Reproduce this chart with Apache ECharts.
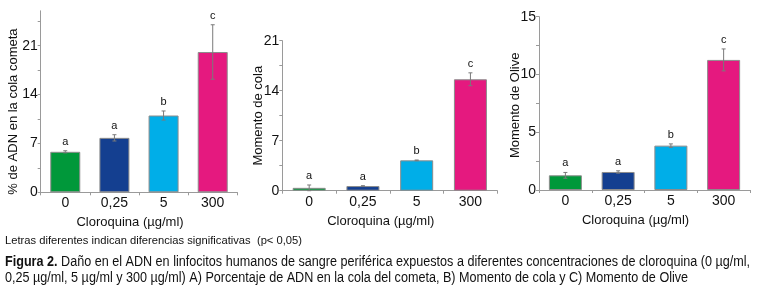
<!DOCTYPE html>
<html>
<head>
<meta charset="utf-8">
<script src="https://cdn.jsdelivr.net/npm/echarts@6/dist/echarts.min.js"></script>
<style>
  html, body { margin: 0; padding: 0; background: #fff; }
  #chart { width: 761px; height: 292px; }
</style>
</head>
<body>
<div id="chart"></div>
<script>
// categorias (concentracion de cloroquina)
const categories = ["0", "0,25", "5", "300"];
const barColors = ["#00983a", "#143f90", "#00aee8", "#e5197f"];
const letters = ["a", "a", "b", "c"];

// A) % de ADN en la cola cometa
const cometaMeans = [5.8, 7.8, 11.0, 20.1];
const cometaErr = [0.15, 0.45, 0.65, 3.9];
const cometaLabels = [0, 7, 14, 21];
const cometaTicks = [0, 3.5, 7, 10.5, 14, 17.5, 21, 24.5];

// B) Momento de cola
const colaMeans = [0.4, 0.65, 4.25, 15.6];
const colaErr = [0.4, 0.05, 0.05, 0.9];
const colaLabels = [0, 7, 14, 21];
const colaTicks = [0, 3.5, 7, 10.5, 14, 17.5, 21];

// C) Momento de Olive
const oliveMeans = [1.27, 1.56, 3.84, 11.26];
const oliveErr = [0.25, 0.1, 0.15, 0.95];
const oliveLabels = [0, 5, 10, 15];
const oliveTicks = [0, 2.5, 5, 7.5, 10, 12.5, 15];

const xName = "Cloroquina (µg/ml)";
const footnote = "Letras diferentes indican diferencias significativas  (p< 0,05)";
const captionBold = "Figura 2.";
const captionLine1 = " Daño en el ADN en linfocitos humanos de sangre periférica expuestos a diferentes concentraciones de cloroquina (0 µg/ml,";
const captionLine2 = "0,25 µg/ml, 5 µg/ml y 300 µg/ml) A) Porcentaje de ADN en la cola del cometa, B) Momento de cola y C) Momento de Olive";

const font = "Liberation Sans, Arial, sans-serif";
const axisGray = "#9a9a9a";

// no hay Arial Narrow: se comprime el texto horizontalmente
const ctx = document.createElement("canvas").getContext("2d");
function textWidth(str, css) { ctx.font = css; return ctx.measureText(str).width; }
const capFont = "14px " + font;
const capBoldFont = "bold 14px " + font;
const capScale = 745 / (textWidth(captionBold, capBoldFont) + textWidth(captionLine1, capFont));
const noteFont = "11.5px " + font;
const noteScale = 297 / textWidth(footnote, noteFont);

const panels = [
  { means: cometaMeans, err: cometaErr, labels: cometaLabels, ticks: cometaTicks, max: 26, yName: "% de ADN en la cola cometa",
    grid: { left: 40.7, top: 10.8, width: 196.6, height: 181.5 }, barWidth: 30, nameGap: 21, namePad: [0, 20, 0, 0] },
  { means: colaMeans, err: colaErr, labels: colaLabels, ticks: colaTicks, max: 21, yName: "Momento de cola",
    grid: { left: 282.3, top: 40.7, width: 215, height: 150 }, barWidth: 33, nameGap: 17, namePad: 0 },
  { means: oliveMeans, err: oliveErr, labels: oliveLabels, ticks: oliveTicks, max: 15, yName: "Momento de Olive",
    grid: { left: 539, top: 16.7, width: 211, height: 173.3 }, barWidth: 33, nameGap: 17, namePad: [0, 4, 0, 0] }
];

const grid = [], xAxis = [], yAxis = [], series = [];

panels.forEach((p, k) => {
  grid.push(p.grid);
  xAxis.push({
    type: "category",
    gridIndex: k,
    data: categories,
    name: xName,
    nameLocation: "middle",
    nameGap: 24,
    nameMoveOverlap: false,
    nameTextStyle: { fontFamily: font, fontSize: 13, color: "#111", padding: [0, 18, 0, 0] },
    axisLine: { lineStyle: { color: axisGray, width: 1 } },
    axisTick: { show: true, length: 3, lineStyle: { color: axisGray } },
    axisLabel: { fontFamily: font, fontSize: 14, color: "#111", margin: 4 }
  });
  yAxis.push({
    type: "value",
    gridIndex: k,
    min: 0,
    max: p.max,
    name: p.yName,
    nameLocation: "middle",
    nameGap: p.nameGap,
    nameMoveOverlap: false,
    nameTextStyle: { fontFamily: font, fontSize: 13, color: "#111", padding: p.namePad },
    axisLine: { show: true, lineStyle: { color: axisGray, width: 1 } },
    axisTick: { show: true, length: 3, customValues: p.ticks, lineStyle: { color: axisGray } },
    axisLabel: { fontFamily: font, fontSize: 14, color: "#111", margin: 3, customValues: p.labels },
    splitLine: { show: false }
  });
  series.push({
    type: "bar",
    xAxisIndex: k,
    yAxisIndex: k,
    barWidth: p.barWidth,
    data: p.means.map((v, i) => ({ value: v, itemStyle: { color: barColors[i] } })),
    itemStyle: { borderColor: "#8c8c8c", borderWidth: 1 },
    silent: true
  });
  series.push({
    type: "custom",
    xAxisIndex: k,
    yAxisIndex: k,
    z: 5,
    silent: true,
    data: p.means.map((v, i) => [i, v, p.err[i]]),
    renderItem: (params, api) => {
      const i = api.value(0), m = api.value(1), e = api.value(2);
      const top = api.coord([i, m + e]);
      const bot = api.coord([i, m - e]);
      const x = top[0];
      const ls = { stroke: "#7a7a7a", lineWidth: 1 };
      return {
        type: "group",
        children: [
          { type: "line", shape: { x1: x, y1: top[1], x2: x, y2: bot[1] }, style: ls },
          { type: "line", shape: { x1: x - 2, y1: top[1], x2: x + 2, y2: top[1] }, style: ls },
          { type: "line", shape: { x1: x - 2, y1: bot[1], x2: x + 2, y2: bot[1] }, style: ls },
          { type: "text", style: { text: letters[i], x: x, y: top[1] - 9, align: "center", verticalAlign: "middle",
            fontFamily: font, fontSize: 11, fill: "#111" } }
        ]
      };
    }
  });
});

const chart = echarts.init(document.getElementById("chart"), null, { renderer: "canvas" });
chart.setOption({
  animation: false,
  backgroundColor: "#fff",
  grid: grid,
  xAxis: xAxis,
  yAxis: yAxis,
  series: series,
  graphic: [
    { type: "text", x: 5, y: 235, scaleX: noteScale,
      style: { text: footnote, font: noteFont, fill: "#111" } },
    { type: "text", x: 5, y: 255, scaleX: capScale,
      style: { text: "{b|" + captionBold + "}" + captionLine1, font: capFont, fill: "#111",
        rich: { b: { fontWeight: "bold", fontFamily: font, fontSize: 14 } } } },
    { type: "text", x: 5, y: 271, scaleX: capScale,
      style: { text: captionLine2, font: capFont, fill: "#111" } }
  ]
});
</script>
</body>
</html>
